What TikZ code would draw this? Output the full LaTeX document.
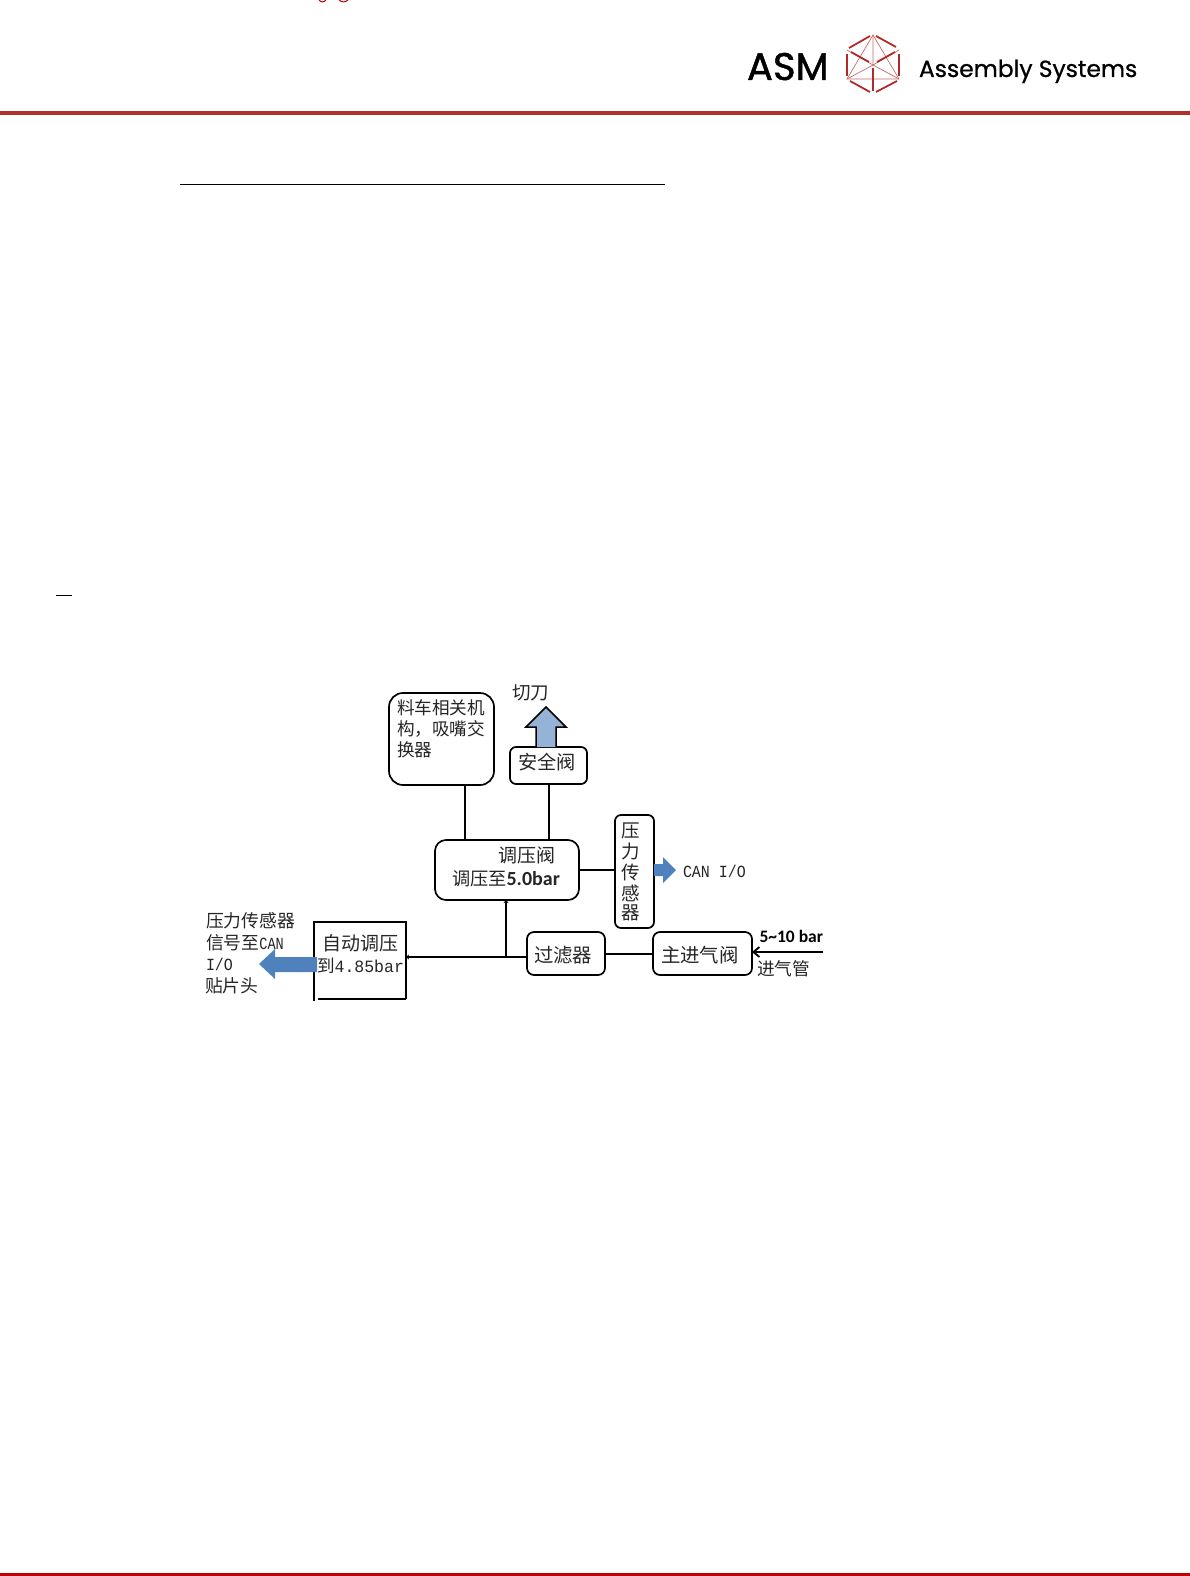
\documentclass[tikz,border=0pt]{standalone}
\usepackage{fontspec}
\setmainfont{Noto Sans CJK SC}
\setmonofont{Liberation Mono}
\newfontfamily\logofont[FakeBold=0.8]{Poppins}
\newfontfamily\logofontb[FakeBold=1.2]{Poppins}
\newfontfamily\calb{Carlito}
\usetikzlibrary{arrows.meta}
\definecolor{bandred}{HTML}{B0322B}
\definecolor{footred}{HTML}{C00000}
\definecolor{logored}{HTML}{B22A28}
\definecolor{paleblue}{HTML}{95B3D7}
\definecolor{midblue}{HTML}{4F81BD}
\definecolor{ink}{HTML}{262626}
\tikzset{
  box/.style={draw=black,line width=1.7pt,rounded corners=#1,inner sep=0pt,outer sep=0pt,text=ink,align=center},
  box/.default=6pt,
  wire/.style={draw=black,line width=1.9pt},
  thinwire/.style={draw=black,line width=1.2pt},
  lab/.style={inner sep=0pt,outer sep=0pt,text=ink,anchor=west,align=left},
  fs/.style={font=\fontsize{#1}{#1}\selectfont},
  blockp/.style={fill=paleblue,draw=black,line width=1.5pt},
  blockm/.style={fill=midblue,draw=none},
  thick logo/.style={draw=logored,line width=1.8pt},
  thin logo/.style={draw=logored!70,line width=0.7pt},
}
\begin{document}
\begin{tikzpicture}[x=1pt,y=-1pt]
\useasboundingbox (0,0) rectangle (1190,1576);
\clip (0,0) rectangle (1190,1576);
\fill[white] (0,0) rectangle (1190,1576);
% page furniture
\fill[bandred] (0,111) rectangle (1190,115);
\fill[footred] (0,1573) rectangle (1190,1576);
\draw[black,line width=1pt] (180,184) -- (665,184);
\draw[black,line width=1pt] (56,595) -- (72,595);
\draw[red!75!black,line width=1pt] (319,0) .. controls (321,2.5) and (324,2.5) .. (326,0);
\draw[red!75!black,line width=1pt] (339,0) .. controls (342,2.5) and (345,2.5) .. (348,0);
% logo
\node[lab,text=black,anchor=base west,font=\logofontb\fontsize{38.5}{39}\selectfont] (asm) at (747,80) {ASM};
\node[lab,text=black,anchor=base west,font=\logofont\fontsize{23.4}{25}\selectfont] (assy) at (919,77) {Assembly Systems};
\draw[thin logo] (873,35) -- (847,79) -- (899,79) -- cycle;
\draw[thin logo] (847,50) -- (873,65) -- (899,50);
\draw[thin logo] (873,35) -- (873,65) -- (847,79);
\draw[thin logo] (873,65) -- (899,79);
\draw[thick logo] (849,48) -- (870,36);
\draw[thick logo] (876,36) -- (896,47);
\draw[thick logo] (847,54) -- (847,76);
\draw[thick logo] (899,54) -- (899,76);
\draw[thick logo] (850,81) -- (870,92);
\draw[thick logo] (876,92) -- (897,81);
\draw[thick logo] (851,52) -- (869,62);
\draw[thick logo] (895,52) -- (877,62);
\draw[thick logo] (873,68) -- (873,91);
% boxes
\node[box=14pt,minimum width=105pt,minimum height=92pt] (liao) at (441.5,739) {};
\node[box,minimum width=77pt,minimum height=37pt] (anq) at (548.5,765.5) {};
\node[box=11pt,minimum width=144pt,minimum height=60pt] (tiao) at (507,870) {};
\node[box,minimum width=39pt,minimum height=113pt] (ps) at (634.5,871.5) {};
\node[box=7pt,minimum width=78pt,minimum height=43pt] (lv) at (566,953.5) {};
\node[box=7pt,minimum width=99pt,minimum height=43pt] (zhu) at (702.5,953.5) {};
\node[inner sep=0pt,outer sep=0pt,minimum width=92pt,minimum height=77pt] (auto) at (360,960.5) {};
% open box drawn side by side
\draw[black,line width=2.3pt] (auto.south west) ++(0,2) -- (auto.north west) -- (auto.north east) -- (auto.south east);
\draw[black,line width=1.9pt] (auto.south east) -- ([xshift=4pt]auto.south west);
% box texts
\node[lab,fs=17.6] (t1a) at (397,708) {料车相关机};
\node[lab,fs=17.6] (t1b) at (397,729) {构，吸嘴交};
\node[lab,fs=17.6] (t1c) at (397,749.5) {换器};
\node[lab,fs=19.2] (t0) at (518,762) {安全阀};
\node[lab,fs=19.4] (t3) at (534,955) {过滤器};
\node[lab,fs=19.4] (t4) at (661,955) {主进气阀};
\node[lab,fs=19] (t2a) at (498,855) {调压阀};
\node[lab,fs=18.2] (t2b) at (452,879) {调压至{\calb\bfseries\fontsize{20}{20}\selectfont 5.0bar}};
\node[lab,fs=18.5,anchor=center] (p1) at (631,831) {压};
\node[lab,fs=18.5,anchor=center] (p2) at (631,852) {力};
\node[lab,fs=18.5,anchor=center] (p3) at (631,872) {传};
\node[lab,fs=18.5,anchor=center] (p4) at (631,893) {感};
\node[lab,fs=18.5,anchor=center] (p5) at (631,913) {器};
\node[lab,fs=19] (a1) at (322,943) {自动调压};
% connectors
\coordinate (xa) at (465,0);
\coordinate (xb) at (549,0);
\coordinate (xc) at (506,0);
\coordinate (yp) at (0,870);
\coordinate (yl) at (0,954);
\coordinate (yb) at (0,957);
\coordinate (ia) at (823,952);
\draw[wire] (liao.south -| xa) -- (tiao.north -| xa);
\draw[wire] (anq.south -| xb) -- (tiao.north -| xb);
\draw[thinwire] (tiao.east |- yp) -- (ps.west |- yp);
\draw[wire] (lv.east |- yl) -- (zhu.west |- yl);
\coordinate (junc) at (xc |- yb);
\draw[wire,line width=2.3pt,-{Stealth[length=3pt,width=5pt]}] (lv.west |- yb) -- (auto.east |- yb);
\draw[wire,-{Stealth[length=3pt,width=5pt]}] (junc) -- (tiao.south -| xc);
\draw[wire,-{Straight Barb[length=6pt,width=10pt,line width=1.8pt]}] (ia) -- (zhu.east |- ia);
% block arrows
\draw[blockp] (anq.north -| 536,0) -- (536,727) -- (526,727) -- (546,707) -- (566,727) -- (556,727) -- (anq.north -| 556,0);
\fill[blockm] (ps.east |- 0,864) -- (663,864) -- (663,857) -- (676,870) -- (663,883) -- (663,876) -- (ps.east |- 0,876) -- cycle;
\fill[blockm] (317,957) -- (275,957) -- (275,949) -- (259,964) -- (275,979) -- (275,972) -- (317,972) -- cycle;
\node[lab,fs=17.6] (a2) at (317,966) {到{\ttfamily\fontsize{17.2}{17}\selectfont\scalebox{.96}[1]{4.85bar}}};
% outer labels
\node[lab,fs=18.5] (cut) at (512,693) {切刀};
\node[lab,font=\ttfamily\fontsize{17}{17}\selectfont] (can) at (683,871) {\scalebox{.88}[1]{CAN I/O}};
\node[lab,font=\calb\bfseries\fontsize{17.5}{18}\selectfont,text=black] (bar) at (759.5,936.5) {5\textasciitilde 10 bar};
\node[lab,fs=17.7] (pipe) at (757,969) {进气管};
\node[lab,fs=17.8] (l1) at (206,921) {压力传感器};
\node[lab,fs=17.8] (l2) at (206,943) {信号至{\ttfamily\fontsize{17}{17}\selectfont\scalebox{.8}[1]{CAN}}};
\node[lab,font=\ttfamily\fontsize{17}{17}\selectfont] (l3) at (206,964) {\scalebox{.88}[1]{I/O}};
\node[lab,fs=17.8] (l4) at (205,986) {贴片头};
\end{tikzpicture}
\end{document}
